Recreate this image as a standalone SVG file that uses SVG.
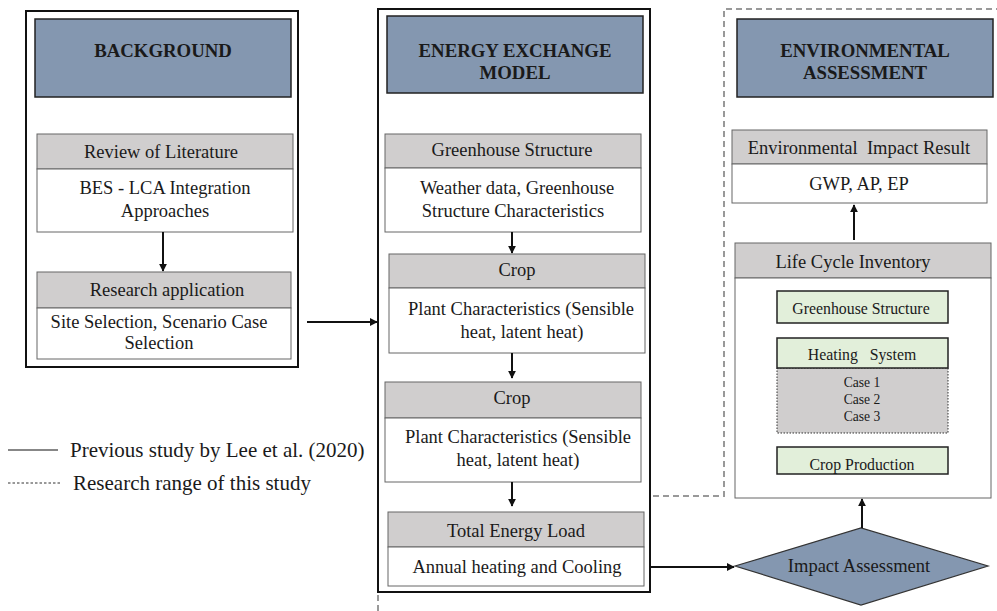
<svg xmlns="http://www.w3.org/2000/svg" width="997" height="611" viewBox="0 0 997 611">
  <style>
    text { font-family: "Liberation Serif", "Times New Roman", serif; fill: #1a1a1a; text-anchor: middle; dominant-baseline: central; }
    .frame { fill: #ffffff; stroke: #111; stroke-width: 2; }
    .head { fill: #8497B0; stroke: #222; stroke-width: 1.5; }
    .htxt { font-weight: bold; font-size: 18.8px; }
    .cap { fill: #D0CECE; stroke: #666; stroke-width: 1; }
    .body { fill: #ffffff; stroke: #666; stroke-width: 1; }
    .txt { font-size: 18.5px; }
    .green { fill: #E2EFDA; stroke: #222; stroke-width: 1.5; }
    .cases { fill: #D0CECE; stroke: #333; stroke-width: 1; stroke-dasharray: 1.5 1.5; }
    .small { font-size: 13.6px; }
    .gtxt { font-size: 15.8px; }
    .conn { stroke: #111; stroke-width: 2; fill: none; }
    .range { stroke: #999; stroke-width: 2; fill: none; stroke-dasharray: 6 4; }
  </style>
  <defs>
    <marker id="arr" viewBox="0 0 10 10" refX="9" refY="5" markerWidth="4" markerHeight="4" orient="auto">
      <path d="M0,0 L10,5 L0,10 z" fill="#111"/>
    </marker>
  </defs>

  <!-- research range outline -->
  <g id="range">
    <path class="range" d="M378,611 L378,496 L724,496 L724,9 L997,9"/>
  </g>

  <!-- column 1: background -->
  <g id="background">
    <rect class="frame" x="26" y="11" width="272" height="356"/>
    <rect class="head" x="35" y="19" width="256" height="78"/>
    <text class="htxt" x="163" y="50">BACKGROUND</text>
  </g>
  <g id="review">
    <rect class="cap" x="37" y="134" width="256" height="35"/>
    <rect class="body" x="37" y="169" width="256" height="63"/>
    <text class="txt" x="161" y="152">Review of Literature</text>
    <text class="txt" x="165" y="188">BES - LCA Integration</text>
    <text class="txt" x="165" y="211">Approaches</text>
  </g>
  <g id="application">
    <rect class="cap" x="37" y="272" width="254" height="36"/>
    <rect class="body" x="37" y="308" width="254" height="51"/>
    <text class="txt" x="167" y="290">Research application</text>
    <text class="txt" x="159" y="322">Site Selection, Scenario Case</text>
    <text class="txt" x="159" y="343">Selection</text>
  </g>

  <!-- column 2: energy exchange model -->
  <g id="energy">
    <rect class="frame" x="378" y="9" width="272" height="583"/>
    <rect class="head" x="387" y="16" width="256" height="77"/>
    <text class="htxt" x="515" y="50">ENERGY EXCHANGE</text>
    <text class="htxt" x="515" y="72">MODEL</text>
  </g>
  <g id="gh-structure">
    <rect class="cap" x="385" y="134" width="256" height="34"/>
    <rect class="body" x="385" y="168" width="256" height="64"/>
    <text class="txt" x="512" y="150">Greenhouse Structure</text>
    <text class="txt" x="517" y="188">Weather data, Greenhouse</text>
    <text class="txt" x="513" y="211">Structure Characteristics</text>
  </g>
  <g id="crop1">
    <rect class="cap" x="389" y="254" width="256" height="34"/>
    <rect class="body" x="389" y="288" width="256" height="65"/>
    <text class="txt" x="517" y="270">Crop</text>
    <text class="txt" x="521" y="309">Plant Characteristics (Sensible</text>
    <text class="txt" x="522" y="332">heat, latent heat)</text>
  </g>
  <g id="crop2">
    <rect class="cap" x="385" y="382" width="256" height="36"/>
    <rect class="body" x="385" y="418" width="256" height="64"/>
    <text class="txt" x="512" y="398">Crop</text>
    <text class="txt" x="518" y="437">Plant Characteristics (Sensible</text>
    <text class="txt" x="518" y="460">heat, latent heat)</text>
  </g>
  <g id="energy-load">
    <rect class="cap" x="388" y="512" width="256" height="35"/>
    <rect class="body" x="388" y="547" width="256" height="39"/>
    <text class="txt" x="516" y="531">Total Energy Load</text>
    <text class="txt" x="517" y="567">Annual heating and Cooling</text>
  </g>

  <!-- column 3: environmental assessment -->
  <g id="environmental">
    <rect class="head" x="737" y="19" width="256" height="78"/>
    <text class="htxt" x="865" y="50">ENVIRONMENTAL</text>
    <text class="htxt" x="865" y="72">ASSESSMENT</text>
  </g>
  <g id="impact-result">
    <rect class="cap" x="732" y="130" width="255" height="34"/>
    <rect class="body" x="732" y="164" width="255" height="39"/>
    <text class="txt" x="859" y="148" xml:space="preserve">Environmental  Impact Result</text>
    <text class="txt" x="859" y="184">GWP, AP, EP</text>
  </g>
  <g id="inventory">
    <rect class="cap" x="735" y="243" width="256" height="35"/>
    <rect class="body" x="735" y="278" width="256" height="220"/>
    <text class="txt" x="853" y="262">Life Cycle Inventory</text>
  </g>
  <g id="lci-structure">
    <rect class="green" x="777" y="291" width="171" height="32"/>
    <text class="gtxt" x="861" y="308">Greenhouse Structure</text>
  </g>
  <g id="lci-heating">
    <rect class="cases" x="777" y="368" width="171" height="65"/>
    <rect class="green" x="777" y="338" width="171" height="30"/>
    <text class="gtxt" x="862" y="354" xml:space="preserve">Heating   System</text>
    <text class="small" x="862" y="382">Case 1</text>
    <text class="small" x="862" y="399">Case 2</text>
    <text class="small" x="862" y="416">Case 3</text>
  </g>
  <g id="lci-crop">
    <rect class="green" x="777" y="447" width="171" height="27"/>
    <text class="gtxt" x="862" y="464">Crop Production</text>
  </g>
  <g id="impact-assessment">
    <polygon points="735,566 861,528 988,566 861,605" fill="#8497B0" stroke="#333" stroke-width="1.2"/>
    <text class="txt" x="859" y="566">Impact Assessment</text>
  </g>

  <!-- legend -->
  <g id="legend">
    <line x1="8" y1="450" x2="58" y2="450" stroke="#111" stroke-width="1.2"/>
    <text x="70" y="450" font-size="21" style="text-anchor:start">Previous study by Lee et al. (2020)</text>
    <line x1="8" y1="483" x2="60" y2="483" stroke="#333" stroke-width="1" stroke-dasharray="2.5 2"/>
    <text x="73" y="483" font-size="21" style="text-anchor:start">Research range of this study</text>
  </g>

  <!-- connectors -->
  <g id="connectors">
    <line class="conn" x1="163" y1="232" x2="163" y2="271" marker-end="url(#arr)"/>
    <line class="conn" x1="307" y1="322" x2="377" y2="322" marker-end="url(#arr)"/>
    <line class="conn" x1="512" y1="232" x2="512" y2="253" marker-end="url(#arr)"/>
    <line class="conn" x1="512" y1="353" x2="512" y2="378" marker-end="url(#arr)"/>
    <line class="conn" x1="512" y1="482" x2="512" y2="506" marker-end="url(#arr)"/>
    <line class="conn" x1="650" y1="567" x2="734" y2="567" marker-end="url(#arr)"/>
    <line class="conn" x1="862" y1="528" x2="862" y2="499" marker-end="url(#arr)"/>
    <line class="conn" x1="854" y1="240" x2="854" y2="205" marker-end="url(#arr)"/>
  </g>
</svg>
